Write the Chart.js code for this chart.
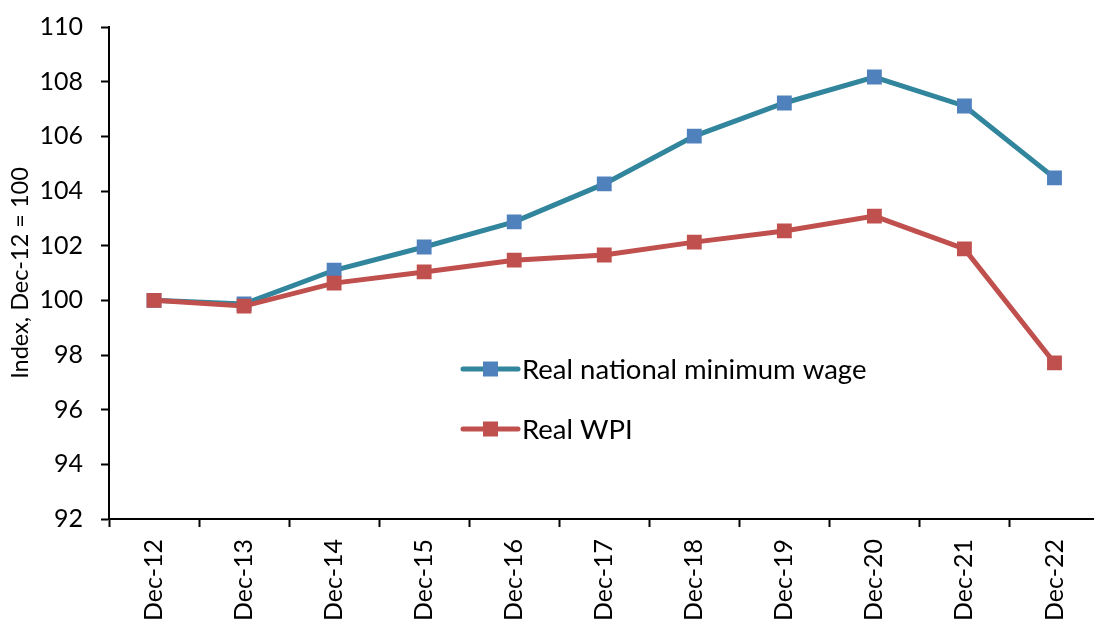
<!DOCTYPE html>
<html>
<head>
<meta charset="utf-8">
<script src="https://cdn.jsdelivr.net/npm/chart.js@4/dist/chart.umd.min.js"></script>
<style>
  html, body { margin: 0; padding: 0; background: #fff; overflow: hidden; }
  #wrap { width: 1110px; height: 621px; }
</style>
</head>
<body>
<div id="wrap"><canvas id="myChart" width="1110" height="621"></canvas></div>
<script>
// Data
const months = ['Dec-12', 'Dec-13', 'Dec-14', 'Dec-15', 'Dec-16', 'Dec-17', 'Dec-18', 'Dec-19', 'Dec-20', 'Dec-21', 'Dec-22'];
const minWage = [100.0, 99.87, 101.1, 101.95, 102.87, 104.26, 106.01, 107.22, 108.17, 107.11, 104.48];
const realWpi = [100.0, 99.79, 100.63, 101.04, 101.47, 101.66, 102.13, 102.54, 103.08, 101.88, 97.71];
const yTicks = [92, 94, 96, 98, 100, 102, 104, 106, 108, 110];

const FONT = 'Lato, "Open Sans", sans-serif';

// Legend drawn inside the plot, like the original
const inlineLegend = {
  id: 'inlineLegend',
  afterDatasetsDraw(chart) {
    const ctx = chart.ctx;
    const area = chart.chartArea;
    const items = [chart.data.datasets[0], chart.data.datasets[1]];
    items.forEach((ds, i) => {
      const x0 = area.left + 354;
      const y = area.top + 342 + i * 60;
      ctx.save();
      ctx.strokeStyle = ds.borderColor;
      ctx.lineWidth = 5;
      ctx.lineCap = 'round';
      ctx.beginPath();
      ctx.moveTo(x0, y);
      ctx.lineTo(x0 + 55, y);
      ctx.stroke();
      ctx.fillStyle = ds.pointBackgroundColor;
      ctx.fillRect(x0 + 20, y - 7.5, 15, 15);
      ctx.fillStyle = '#000';
      ctx.font = '27.5px ' + FONT;
      ctx.textBaseline = 'middle';
      ctx.fillText(ds.label, x0 + 59, y + 1);
      ctx.restore();
    });
  }
};

const ctx = document.getElementById('myChart').getContext('2d');
const myChart = new Chart(ctx, {
  type: 'line',
  data: {
    labels: months,
    datasets: [{
      label: 'Real national minimum wage',
      data: minWage,
      borderColor: '#31859C',
      borderWidth: 5,
      pointStyle: 'rect',
      pointRadius: 10.5,
      pointBorderWidth: 0,
      pointBackgroundColor: '#4F81BD',
      pointBorderColor: '#4F81BD',
      tension: 0,
      order: 1,
    }, {
      label: 'Real WPI',
      data: realWpi,
      borderColor: '#C0504D',
      borderWidth: 5,
      pointStyle: 'rect',
      pointRadius: 10.5,
      pointBorderWidth: 0,
      pointBackgroundColor: '#C0504D',
      pointBorderColor: '#C0504D',
      tension: 0,
      order: 0,
    }],
  },
  options: {
    responsive: false,
    animation: false,
    layout: { padding: { top: 27, right: 8, left: 0, bottom: 0 } },
    plugins: {
      legend: { display: false },
      tooltip: { enabled: false },
    },
    scales: {
      x: {
        offset: true,
        afterFit(scale) { scale.height = 102; },
        grid: {
          offset: true,
          drawOnChartArea: false,
          drawTicks: true,
          tickLength: 8,
          tickWidth: 2,
          color: '#000',
        },
        border: { display: true, color: '#000', width: 2 },
        ticks: {
          color: '#000',
          font: { family: FONT, size: 25 },
          minRotation: 90,
          maxRotation: 90,
          padding: 12,
          autoSkip: false,
        },
      },
      y: {
        min: 92,
        max: 110,
        afterFit(scale) {
          scale.width = 109;
          scale.paddingTop = 0;
          scale.paddingBottom = 0;
        },
        afterBuildTicks(scale) { scale.ticks = yTicks.map(v => ({ value: v })); },
        grid: {
          drawOnChartArea: false,
          drawTicks: true,
          tickLength: 8,
          tickWidth: 2,
          color: '#000',
        },
        border: { display: true, color: '#000', width: 2 },
        ticks: {
          color: '#000',
          font: { family: FONT, size: 25 },
          padding: 18,
        },
        title: {
          display: true,
          text: 'Index, Dec-12 = 100',
          color: '#000',
          font: { family: FONT, size: 23.5 },
          padding: { top: 6, bottom: 0 },
        },
      },
    },
  },
  plugins: [inlineLegend],
});
</script>
</body>
</html>
